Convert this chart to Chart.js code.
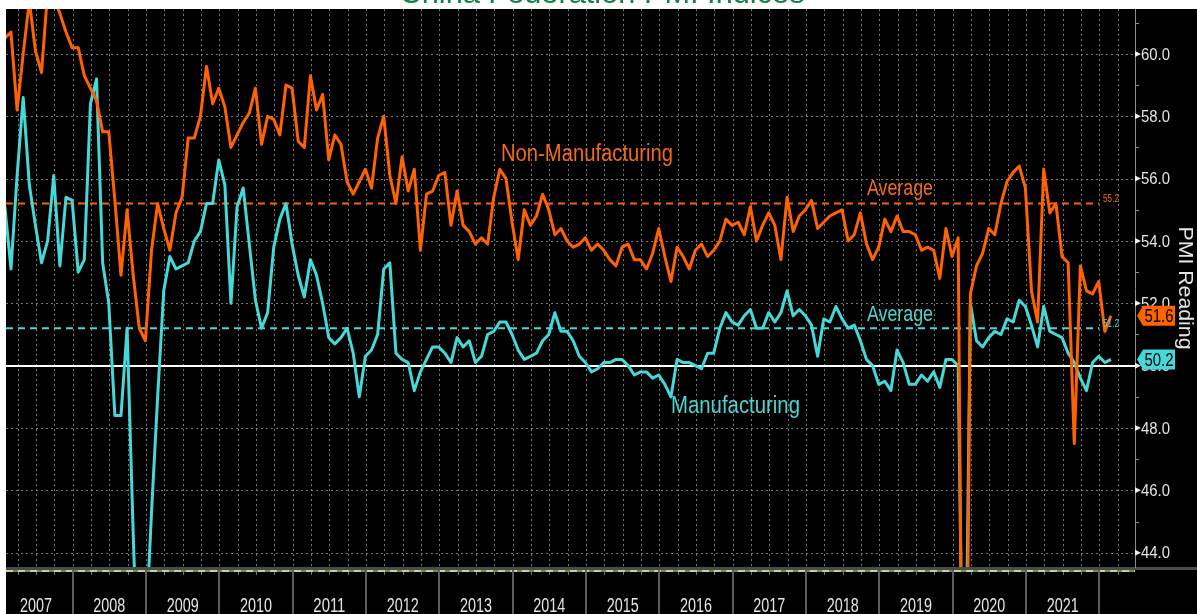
<!DOCTYPE html>
<html>
<head>
<meta charset="utf-8">
<title>China Federation PMI Indices</title>
<script src="https://cdn.jsdelivr.net/npm/chart.js@4.4.1/dist/chart.umd.min.js"></script>
<style>
  html, body { margin: 0; padding: 0; background: #fff; overflow: hidden; }
  canvas { display: block; }
</style>
</head>
<body>
<canvas id="pmiChart" width="1197" height="614"></canvas>
<script>
// ========================================
// Data (monthly, Jan 2007 - Feb 2022)
// ========================================
const yearLabels = ['2007', '2008', '2009', '2010', '2011', '2012', '2013', '2014',
  '2015', '2016', '2017', '2018', '2019', '2020', '2021'];

const nonManufacturing = [
  60.5, 60.7, 58.2, 60.0, 61.7, 60.1, 59.4, 62.0, 61.8, 61.3, 60.7, 60.2, // 2007
  60.2, 59.3, 58.9, 58.5, 57.5, 57.5, 55.3, 52.9, 55.0, 52.9, 51.2, 50.8, // 2008
  53.7, 55.2, 54.4, 53.7, 54.9, 55.4, 57.3, 57.3, 58.0, 59.6, 58.4, 58.9, // 2009
  58.3, 57.0, 57.4, 57.8, 58.1, 58.9, 57.1, 58.0, 57.9, 57.4, 59.0, 58.9, // 2010
  57.2, 57.0, 59.3, 58.2, 58.7, 56.6, 57.4, 57.1, 55.9, 55.5, 55.9, 56.3, // 2011
  55.7, 57.3, 58.0, 56.1, 55.2, 56.7, 55.6, 56.3, 53.7, 55.5, 55.6, 56.1, // 2012
  56.2, 54.5, 55.6, 54.5, 54.3, 53.9, 54.1, 53.9, 55.4, 56.3, 56.0, 54.6, // 2013
  53.4, 55.0, 54.5, 54.8, 55.5, 55.0, 54.2, 54.4, 54.0, 53.8, 53.9, 54.1, // 2014
  53.7, 53.9, 53.7, 53.4, 53.2, 53.8, 53.9, 53.4, 53.4, 53.1, 53.6, 54.4, // 2015
  53.5, 52.7, 53.8, 53.5, 53.1, 53.7, 53.9, 53.5, 53.7, 54.0, 54.7, 54.5, // 2016
  54.6, 54.2, 55.1, 54.0, 54.5, 54.9, 54.5, 53.4, 55.4, 54.3, 54.8, 55.0, // 2017
  55.3, 54.4, 54.6, 54.8, 54.9, 55.0, 54.0, 54.2, 54.9, 53.9, 53.4, 53.8, // 2018
  54.7, 54.3, 54.8, 54.3, 54.3, 54.2, 53.7, 53.8, 53.7, 52.8, 54.4, 53.5, // 2019
  54.1, 29.6, 52.3, 53.2, 53.6, 54.4, 54.2, 55.2, 55.9, 56.2, 56.4, 55.7, // 2020
  52.4, 51.4, 56.3, 54.9, 55.2, 53.5, 53.3, 47.5, 53.2, 52.4, 52.3, 52.7, // 2021
  51.1, 51.6                                                              // 2022
];

const manufacturing = [
  55.1, 53.1, 56.1, 58.6, 55.8, 54.5, 53.3, 54.0, 56.1, 53.2, 55.4, 55.3, // 2007
  53.0, 53.4, 58.4, 59.2, 53.3, 52.0, 48.4, 48.4, 51.2, 44.6, 38.8, 41.2, // 2008
  45.3, 49.0, 52.4, 53.5, 53.1, 53.2, 53.3, 54.0, 54.3, 55.2, 55.2, 56.6, // 2009
  55.8, 52.0, 55.1, 55.7, 53.9, 52.1, 51.2, 51.7, 53.8, 54.7, 55.2, 53.9, // 2010
  52.9, 52.2, 53.4, 52.9, 52.0, 50.9, 50.7, 50.9, 51.2, 50.4, 49.0, 50.3, // 2011
  50.5, 51.0, 53.1, 53.3, 50.4, 50.2, 50.1, 49.2, 49.8, 50.2, 50.6, 50.6, // 2012
  50.4, 50.1, 50.9, 50.6, 50.8, 50.1, 50.3, 51.0, 51.1, 51.4, 51.4, 51.0, // 2013
  50.5, 50.2, 50.3, 50.4, 50.8, 51.0, 51.7, 51.1, 51.1, 50.8, 50.3, 50.1, // 2014
  49.8, 49.9, 50.1, 50.1, 50.2, 50.2, 50.0, 49.7, 49.8, 49.8, 49.6, 49.7, // 2015
  49.4, 49.0, 50.2, 50.1, 50.1, 50.0, 49.9, 50.4, 50.4, 51.2, 51.7, 51.4, // 2016
  51.3, 51.6, 51.8, 51.2, 51.2, 51.7, 51.4, 51.7, 52.4, 51.6, 51.8, 51.6, // 2017
  51.3, 50.3, 51.5, 51.4, 51.9, 51.5, 51.2, 51.3, 50.8, 50.2, 50.0, 49.4, // 2018
  49.5, 49.2, 50.5, 50.1, 49.4, 49.4, 49.7, 49.5, 49.8, 49.3, 50.2, 50.2, // 2019
  50.0, 35.7, 52.0, 50.8, 50.6, 50.9, 51.1, 51.0, 51.5, 51.4, 52.1, 51.9, // 2020
  51.3, 50.6, 51.9, 51.1, 51.0, 50.9, 50.4, 50.1, 49.6, 49.2, 50.1, 50.3, // 2021
  50.1, 50.2                                                              // 2022
];

const yTicks = [44, 46, 48, 50, 52, 54, 56, 58, 60];
const nonMfgAverage = 55.2;
const mfgAverage = 51.2;
const expansionLine = 50;

(function() {
  'use strict';

  const W = 1197, H = 614;

  const COLORS = {
    orange: '#ff6200',
    orangeText: '#f26a1c',
    teal: '#45d8d8',
    tealText: '#4fd4d4',
    grid: 'rgba(150,150,150,0.8)',
    axis: '#8a8a8a',
    label: '#e4e4e4',
    title: '#14804b'
  };

  // months are plotted at their end (index + 0.9 months from Jan 2007)
  const MONTH_POS = 0.9;
  const toPoints = arr => arr.map((v, i) => ({ x: i + MONTH_POS, y: v }));

  // draw text squeezed to a target width (Bloomberg style narrow font)
  function fitText(ctx, text, x, y, font, width, align) {
    ctx.save();
    ctx.font = font;
    const w = ctx.measureText(text).width;
    const s = width ? width / w : 1;
    ctx.translate(x, y);
    ctx.scale(s, 1);
    ctx.textAlign = align || 'left';
    ctx.fillText(text, 0, 0);
    ctx.restore();
  }

  function hline(ctx, x1, x2, y) {
    ctx.beginPath(); ctx.moveTo(x1, y); ctx.lineTo(x2, y); ctx.stroke();
  }
  function vline(ctx, x, y1, y2) {
    ctx.beginPath(); ctx.moveTo(x, y1); ctx.lineTo(x, y2); ctx.stroke();
  }

  function valueBox(ctx, value, py, fill) {
    const left = 1137, body = 1143, right = 1175, half = 10;
    ctx.fillStyle = fill;
    ctx.beginPath();
    ctx.moveTo(left, py);
    ctx.lineTo(body, py - half);
    ctx.lineTo(right, py - half);
    ctx.lineTo(right, py + half);
    ctx.lineTo(body, py + half);
    ctx.closePath();
    ctx.fill();
    ctx.fillStyle = '#000';
    ctx.textBaseline = 'middle';
    fitText(ctx, value.toFixed(1), 1159, py + 1, '19px "Liberation Sans"', 29, 'center');
  }

  const decor = {
    id: 'decor',
    beforeDraw(chart) {
      const { ctx, chartArea: a, scales: { x, y } } = chart;
      ctx.save();
      ctx.fillStyle = '#fff';
      ctx.fillRect(0, 0, W, H);

      // title, mostly cut off at the top edge
      ctx.fillStyle = COLORS.title;
      ctx.textBaseline = 'alphabetic';
      fitText(ctx, 'China Federation PMI Indices', 602, 2.5, '30px "Liberation Sans"', 405, 'center');

      ctx.fillStyle = '#000';
      ctx.fillRect(a.left, a.top, W - a.left, H - a.top);

      // dotted grid
      ctx.strokeStyle = COLORS.grid;
      ctx.lineWidth = 1;
      ctx.setLineDash([2, 3]);
      yTicks.forEach(v => {
        const py = Math.round(y.getPixelForValue(v)) + 0.5;
        hline(ctx, a.left, a.right, py);
      });
      for (let m = 0; m <= 186; m += 3) {
        const px = Math.round(x.getPixelForValue(m)) + 0.5;
        if (px > a.left && px < a.right) vline(ctx, px, a.top, a.bottom);
      }

      // averages
      const avgEnd = x.getPixelForValue(180);
      ctx.lineWidth = 2;
      ctx.setLineDash([7, 5]);
      ctx.strokeStyle = COLORS.orange;
      hline(ctx, a.left, avgEnd, y.getPixelForValue(nonMfgAverage));
      ctx.strokeStyle = COLORS.teal;
      hline(ctx, a.left, avgEnd, y.getPixelForValue(mfgAverage));

      // 50 line
      ctx.setLineDash([]);
      ctx.strokeStyle = '#ffffff';
      ctx.lineWidth = 2;
      hline(ctx, a.left, 1137, Math.round(y.getPixelForValue(expansionLine)));
      ctx.restore();
    },

    afterDraw(chart) {
      const { ctx, chartArea: a, scales: { x, y } } = chart;
      ctx.save();

      // ----- bottom time band -----
      ctx.fillStyle = '#4b4b4b';
      ctx.fillRect(a.left, a.bottom - 1, W - a.left, 3);
      ctx.strokeStyle = '#8cc63f';
      ctx.lineWidth = 1.5;
      hline(ctx, a.left, a.right, a.bottom + 3);
      ctx.strokeStyle = '#e0e0e0';
      ctx.setLineDash([7, 5]);
      hline(ctx, a.left, a.right, a.bottom + 3);
      ctx.setLineDash([]);

      ctx.strokeStyle = '#777';
      ctx.lineWidth = 1;
      for (let m = 3; m < 186; m += 3) {
        const px = Math.round(x.getPixelForValue(m)) + 0.5;
        if (px < a.right) vline(ctx, px, a.bottom + 4, a.bottom + 7);
      }
      ctx.strokeStyle = '#5c5c5c';
      ctx.lineWidth = 2;
      for (let k = 1; k <= yearLabels.length; k++) {
        vline(ctx, Math.round(x.getPixelForValue(k * 12)), a.bottom + 2, H);
      }
      ctx.fillStyle = COLORS.label;
      ctx.textBaseline = 'alphabetic';
      yearLabels.forEach((label, k) => {
        const cx = (x.getPixelForValue(k * 12) + x.getPixelForValue(k * 12 + 12)) / 2;
        fitText(ctx, label, cx, 612, '20px "Liberation Sans"', 32, 'center');
      });

      // ----- right axis -----
      ctx.strokeStyle = COLORS.axis;
      ctx.lineWidth = 1;
      vline(ctx, a.right + 0.5, a.top, a.bottom);
      for (let v = 45; v <= 61; v += 2) {
        const py = Math.round(y.getPixelForValue(v)) + 0.5;
        hline(ctx, a.right, a.right + 4, py);
      }
      ctx.textBaseline = 'middle';
      yTicks.forEach(v => {
        const py = y.getPixelForValue(v);
        ctx.fillStyle = '#f0f0f0';
        ctx.beginPath();
        ctx.moveTo(a.right, py - 3);
        ctx.lineTo(a.right + 6, py);
        ctx.lineTo(a.right, py + 3);
        ctx.closePath();
        ctx.fill();
        ctx.fillStyle = COLORS.label;
        fitText(ctx, v.toFixed(1), 1141, py + 1, '17px "Liberation Sans"', 29, 'left');
      });

      ctx.save();
      ctx.translate(1185, 288);
      ctx.rotate(Math.PI / 2);
      ctx.fillStyle = COLORS.label;
      fitText(ctx, 'PMI Reading', 0, 0, '21px "Liberation Sans"', 123, 'center');
      ctx.restore();

      // ----- last value boxes -----
      valueBox(ctx, nonManufacturing[nonManufacturing.length - 1],
        y.getPixelForValue(nonManufacturing[nonManufacturing.length - 1]), COLORS.orange);
      valueBox(ctx, manufacturing[manufacturing.length - 1],
        y.getPixelForValue(manufacturing[manufacturing.length - 1]), COLORS.teal);

      // ----- annotations -----
      ctx.textBaseline = 'alphabetic';
      ctx.fillStyle = COLORS.orangeText;
      fitText(ctx, 'Non-Manufacturing', 501, 161, '23px "Liberation Sans"', 172);
      fitText(ctx, 'Average', 867, y.getPixelForValue(nonMfgAverage) - 9, '22px "Liberation Sans"', 66);
      fitText(ctx, nonMfgAverage.toFixed(1), 1103, y.getPixelForValue(nonMfgAverage) - 1.5, '11px "Liberation Sans"', 16);
      ctx.fillStyle = COLORS.tealText;
      fitText(ctx, 'Average', 867, y.getPixelForValue(mfgAverage) - 7, '22px "Liberation Sans"', 66);
      fitText(ctx, 'Manufacturing', 671, 413, '23px "Liberation Sans"', 129);
      fitText(ctx, mfgAverage.toFixed(1), 1103, y.getPixelForValue(mfgAverage) - 1.5, '11px "Liberation Sans"', 16);

      ctx.restore();
    }
  };

  new Chart(document.getElementById('pmiChart'), {
    type: 'line',
    data: {
      datasets: [
        {
          label: 'Non-Manufacturing',
          data: toPoints(nonManufacturing),
          borderColor: COLORS.orange,
          borderWidth: 3,
          borderJoinStyle: 'round',
          pointRadius: 0,
          tension: 0,
          clip: 0
        },
        {
          label: 'Manufacturing',
          data: toPoints(manufacturing),
          borderColor: COLORS.teal,
          borderWidth: 3,
          borderJoinStyle: 'round',
          pointRadius: 0,
          tension: 0,
          clip: 0
        }
      ]
    },
    options: {
      responsive: false,
      animation: false,
      devicePixelRatio: 1,
      layout: { padding: { left: 6, top: 9, right: 62, bottom: 46 } },
      plugins: { legend: { display: false }, tooltip: { enabled: false } },
      scales: {
        x: { type: 'linear', min: 1.085, max: 185.84, display: false },
        y: { type: 'linear', min: 43.51, max: 61.44, display: false }
      }
    },
    plugins: [decor]
  });
})();
</script>
</body>
</html>
